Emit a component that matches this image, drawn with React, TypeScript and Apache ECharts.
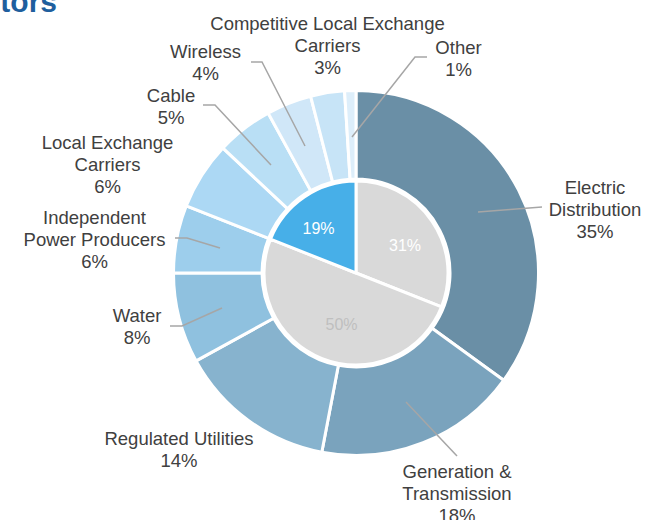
import React, { useEffect, useRef } from "react";
import * as echarts from "echarts";

const outerNames = [
  "Electric\nDistribution",
  "Generation &\nTransmission",
  "Regulated Utilities",
  "Water",
  "Independent\nPower Producers",
  "Local Exchange\nCarriers",
  "Cable",
  "Wireless",
  "Competitive Local Exchange\nCarriers",
  "Other",
];
const outerValues = [35, 18, 14, 8, 6, 6, 5, 4, 3, 1];
const outerColors = [
  "#6A8FA6",
  "#7AA3BD",
  "#87B3CE",
  "#8FC1DF",
  "#9DCEEC",
  "#ACD8F4",
  "#B9DFF5",
  "#D0E7F8",
  "#C7E4F7",
  "#DDEEFA",
];

const innerNames = ["Segment A", "Segment B", "Segment C"];
const innerValues = [31, 50, 19];
const innerColors = ["#D9D9D9", "#D9D9D9", "#47AFE8"];
const innerLabelColors = ["#FFFFFF", "#BFBFBF", "#FFFFFF"];

// label layout (pixel positions of label blocks and leader lines)
const outerLabelPos: { x: number; y: number; line: number[][] | null }[] = [
  { x: 595, y: 209, line: [[478, 212], [510, 209.5], [542, 207]] },
  { x: 457, y: 493, line: [[406, 402], [457, 456]] },
  { x: 179, y: 449.5, line: null },
  { x: 137, y: 326.5, line: [[222, 308], [182, 326], [170, 326]] },
  { x: 94.5, y: 239.5, line: [[220, 248], [187, 238], [175, 238]] },
  { x: 107.5, y: 164.5, line: null },
  { x: 171, y: 106.5, line: [[271, 165], [215, 105], [203, 105]] },
  { x: 205.5, y: 62, line: [[305, 146], [262, 62], [251, 62]] },
  { x: 327.5, y: 45, line: null },
  { x: 458.5, y: 58.5, line: [[352, 137], [415, 57], [427, 57]] },
];
const innerLabelPos = [
  [405, 245],
  [341.5, 324.5],
  [318.5, 228],
];

const CX = 356;
const CY = 273;
const FONT = "'Liberation Sans', Arial, sans-serif";

export default function App() {
  const ref = useRef<HTMLDivElement>(null);
  useEffect(() => {
    document.body.style.margin = "0";
    if (!ref.current) return;
    const chart = echarts.init(ref.current, undefined, { renderer: "svg" });
    const leaderLines = outerLabelPos
      .filter((p) => p.line)
      .map((p) => ({
        type: "polyline",
        z: 100,
        silent: true,
        shape: { points: p.line },
        style: { stroke: "#A6A6A6", lineWidth: 1.5, fill: null },
      }));
    chart.setOption({
      animation: false,
      backgroundColor: "#FFFFFF",
      graphic: [
        {
          type: "text",
          x: 57,
          y: 1,
          style: {
            text: "Sectors",
            font: `bold 30px ${FONT}`,
            fill: "#1F5F9E",
            align: "right",
            verticalAlign: "middle",
          },
        },
        ...leaderLines,
      ],
      series: [
        {
          type: "pie",
          center: [CX, CY],
          radius: [94, 182.5],
          startAngle: 90,
          clockwise: true,
          avoidLabelOverlap: false,
          itemStyle: { borderColor: "#FFFFFF", borderWidth: 3 },
          label: {
            show: true,
            position: "outside",
            formatter: "{b}\n{c}%",
            fontFamily: FONT,
            fontSize: 18.5,
            lineHeight: 22,
            color: "#404040",
            align: "center",
          },
          labelLine: { show: false },
          labelLayout: (params: any) => {
            const p = outerLabelPos[params.dataIndex];
            return {
              x: p.x,
              y: p.y,
              align: "center",
              verticalAlign: "middle",
            };
          },
          emphasis: { disabled: true },
          data: outerValues.map((v, i) => ({
            value: v,
            name: outerNames[i],
            itemStyle: { color: outerColors[i] },
          })),
        },
        {
          type: "pie",
          center: [CX, CY],
          radius: [0, 92],
          startAngle: 90,
          clockwise: true,
          avoidLabelOverlap: false,
          itemStyle: { borderColor: "#FFFFFF", borderWidth: 3 },
          label: {
            show: true,
            position: "inside",
            formatter: "{c}%",
            fontFamily: FONT,
            fontSize: 16,
          },
          labelLayout: (params: any) => {
            const p = innerLabelPos[params.dataIndex];
            return { x: p[0], y: p[1], align: "center", verticalAlign: "middle" };
          },
          emphasis: { disabled: true },
          data: innerValues.map((v, i) => ({
            value: v,
            name: innerNames[i],
            itemStyle: { color: innerColors[i] },
            label: { color: innerLabelColors[i] },
          })),
        },
      ],
    });
    return () => chart.dispose();
  }, []);
  return <div ref={ref} style={{ width: 645, height: 520 }} />;
}
